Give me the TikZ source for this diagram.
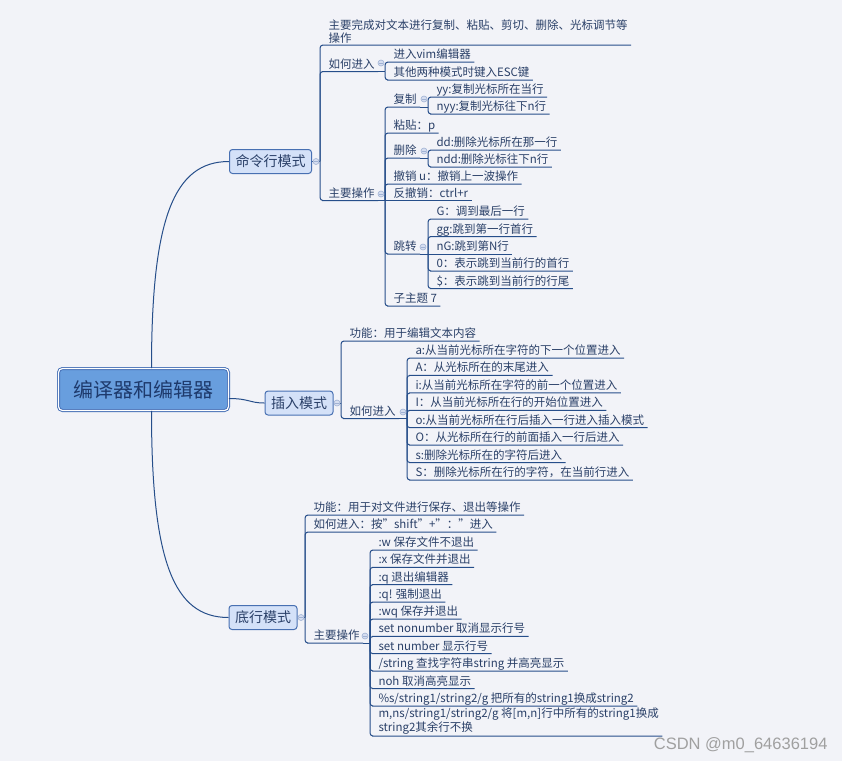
\documentclass[tikz,border=0pt]{standalone}
\usepackage{fontspec}
\setmainfont{Noto Sans CJK SC}
\newfontfamily\wmfont{Liberation Sans}
\definecolor{bgc}{RGB}{242,243,248}
\definecolor{linec}{RGB}{38,78,138}
\definecolor{textc}{RGB}{42,64,104}
\definecolor{modefill}{RGB}{212,225,248}
\definecolor{modeedge}{RGB}{72,112,178}
\definecolor{rootfill}{RGB}{104,158,222}
\definecolor{rootedge}{RGB}{66,108,180}
\definecolor{roottext}{RGB}{30,58,108}
\definecolor{foldfill}{RGB}{214,222,240}
\definecolor{foldedge}{RGB}{160,178,212}
\definecolor{wmc}{RGB}{160,160,160}
\tikzset{
  every picture/.style={line width=1pt},
  root/.style={rounded corners=4pt, draw=rootedge, line width=0.9pt,
               double=white, double distance=1.2pt, fill=rootfill,
               minimum width=170pt, minimum height=42pt, text=roottext,
               font=\fontsize{20}{24}\selectfont},
  mode/.style={rounded corners=3pt, draw=modeedge, fill=modefill,
               text=textc, inner xsep=6pt, minimum height=24pt,
               font=\fontsize{14}{16}\selectfont},
  leaf/.style={anchor=south west, xshift=5pt, inner xsep=3pt, inner ysep=0pt,
               text height=9pt, text depth=3pt, text=textc,
               font=\fontsize{11.5}{12.5}\selectfont},
  leaftwo/.style={anchor=south west, xshift=5pt, inner xsep=3pt,
                  inner ysep=1.5pt, align=left, text=textc,
                  font=\fontsize{11.5}{12.5}\selectfont},
  conn/.style={draw=linec, rounded corners=3pt},
  fold/.style={circle, draw=foldedge, fill=foldfill, line width=0.6pt,
               minimum size=6pt, inner sep=0pt,
               path picture={\draw[foldedge, line width=0.6pt]
                 ([xshift=1.3pt]path picture bounding box.west) --
                 ([xshift=-1.3pt]path picture bounding box.east);}},
  wm/.style={anchor=east, inner sep=0pt, text=wmc,
             font=\wmfont\fontsize{16.5}{18}\selectfont},
}

\begin{document}
\begin{tikzpicture}[x=1pt,y=-1pt]
  \fill[bgc] (0,0) rectangle (842,761);
  \useasboundingbox (0,0) rectangle (842,761);

  % centre topic and the three modes
  \node[root] (main) at (143.5,389.5) {编译器和编辑器};
  \node[mode] (cmd) at (270.5,161.5) {命令行模式};
  \node[mode] (ins) at (299,403) {插入模式};
  \node[mode] (bot) at (263,617.5) {底行模式};
  \draw[conn] ([xshift=8pt]main.north) .. controls +(0,-150) and +(-55,0) .. (cmd.west);
  \draw[conn] ([yshift=-9pt]main.east) .. controls +(20,0) and +(-15,0) .. (ins.west);
  \draw[conn] ([xshift=8pt]main.south) .. controls +(0,150) and +(-55,0) .. (bot.west);

  % command mode
  \coordinate (jCmd) at (320,161.5);
  \node[leaftwo] (cmdIntro) at (320,45) {主要完成对文本进行复制、粘贴、剪切、删除、光标调节等\\操作};
  \node[leaf] (cmdEnter) at (320,71.5) {如何进入};
  \node[leaf] (cmdOps) at (320,200.5) {主要操作};
  \draw[conn] (cmd.east) -- (jCmd);
  \draw[conn] (jCmd) |- (cmdIntro.south west) -- (cmdIntro.south east);
  \draw[conn] (jCmd) |- (cmdEnter.south west) -- (cmdEnter.south east);
  \draw[conn] (jCmd) |- (cmdOps.south west) -- (cmdOps.south east);

  \coordinate (jEnter) at (385,71.5);
  \node[leaf] (cmdEnterA) at (385,62) {进入vim编辑器};
  \node[leaf] (cmdEnterB) at (385,80) {其他两种模式时键入ESC键};
  \draw[conn] (cmdEnter.south east) -- (jEnter);
  \draw[conn] (jEnter) |- (cmdEnterA.south west) -- (cmdEnterA.south east);
  \draw[conn] (jEnter) |- (cmdEnterB.south west) -- (cmdEnterB.south east);

  \coordinate (jOps) at (385,200.5);
  \node[leaf] (cmdCopy) at (385,107) {复制};
  \node[leaf] (cmdPaste) at (385,133) {粘贴：p};
  \node[leaf] (cmdDel) at (385,158) {删除};
  \node[leaf] (cmdUndo) at (385,184) {撤销 u：撤销上一波操作};
  \node[leaf] (cmdRedo) at (385,200.5) {反撤销：ctrl+r};
  \node[leaf] (cmdJump) at (385,254) {跳转};
  \node[leaf] (cmdSub) at (385,306) {子主题 7};
  \draw[conn] (cmdOps.south east) -- (jOps);
  \draw[conn] (jOps) |- (cmdCopy.south west) -- (cmdCopy.south east);
  \draw[conn] (jOps) |- (cmdPaste.south west) -- (cmdPaste.south east);
  \draw[conn] (jOps) |- (cmdDel.south west) -- (cmdDel.south east);
  \draw[conn] (jOps) |- (cmdUndo.south west) -- (cmdUndo.south east);
  \draw[conn] (jOps) -- (cmdRedo.south east);
  \draw[conn] (jOps) |- (cmdJump.south west) -- (cmdJump.south east);
  \draw[conn] (jOps) |- (cmdSub.south west) -- (cmdSub.south east);

  \coordinate (jCopy) at (428,107);
  \node[leaf] (cmdCopyA) at (428,97) {yy:复制光标所在当行};
  \node[leaf] (cmdCopyB) at (428,114) {nyy:复制光标往下n行};
  \draw[conn] (cmdCopy.south east) -- (jCopy);
  \draw[conn] (jCopy) |- (cmdCopyA.south west) -- (cmdCopyA.south east);
  \draw[conn] (jCopy) |- (cmdCopyB.south west) -- (cmdCopyB.south east);

  \coordinate (jDel) at (428,158);
  \node[leaf] (cmdDelA) at (428,150) {dd:删除光标所在那一行};
  \node[leaf] (cmdDelB) at (428,167) {ndd:删除光标往下n行};
  \draw[conn] (cmdDel.south east) -- (jDel);
  \draw[conn] (jDel) |- (cmdDelA.south west) -- (cmdDelA.south east);
  \draw[conn] (jDel) |- (cmdDelB.south west) -- (cmdDelB.south east);

  \coordinate (jJump) at (428,254);
  \node[leaf] (cmdJumpA) at (428,219) {G：调到最后一行};
  \node[leaf] (cmdJumpB) at (428,236.5) {gg:跳到第一行首行};
  \node[leaf] (cmdJumpC) at (428,254) {nG:跳到第N行};
  \node[leaf] (cmdJumpD) at (428,271) {0：表示跳到当前行的首行};
  \node[leaf] (cmdJumpE) at (428,288.5) {\$：表示跳到当前行的行尾};
  \draw[conn] (cmdJump.south east) -- (jJump);
  \draw[conn] (jJump) |- (cmdJumpA.south west) -- (cmdJumpA.south east);
  \draw[conn] (jJump) |- (cmdJumpB.south west) -- (cmdJumpB.south east);
  \draw[conn] (jJump) -- (cmdJumpC.south east);
  \draw[conn] (jJump) |- (cmdJumpD.south west) -- (cmdJumpD.south east);
  \draw[conn] (jJump) |- (cmdJumpE.south west) -- (cmdJumpE.south east);

  % insert mode
  \coordinate (jIns) at (341,403);
  \node[leaf] (insFunc) at (341,341) {功能：用于编辑文本内容};
  \node[leaf] (insEnter) at (341,418.5) {如何进入};
  \draw[conn] (ins.east) -- (jIns);
  \draw[conn] (jIns) |- (insFunc.south west) -- (insFunc.south east);
  \draw[conn] (jIns) |- (insEnter.south west) -- (insEnter.south east);

  \coordinate (jInsEnter) at (407,418.5);
  \node[leaf] (insA) at (407,358) {a:从当前光标所在字符的下一个位置进入};
  \node[leaf] (insB) at (407,375.4) {A：从光标所在的末尾进入};
  \node[leaf] (insC) at (407,392.9) {i:从当前光标所在字符的前一个位置进入};
  \node[leaf] (insD) at (407,410.3) {I：从当前光标所在行的开始位置进入};
  \node[leaf] (insE) at (407,427.7) {o:从当前光标所在行后插入一行进入插入模式};
  \node[leaf] (insF) at (407,445.1) {O：从光标所在行的前面插入一行后进入};
  \node[leaf] (insG) at (407,462.6) {s:删除光标所在的字符后进入};
  \node[leaf] (insH) at (407,480) {S：删除光标所在行的字符，在当前行进入};
  \draw[conn] (insEnter.south east) -- (jInsEnter);
  \draw[conn] (jInsEnter) |- (insA.south west) -- (insA.south east);
  \draw[conn] (jInsEnter) |- (insB.south west) -- (insB.south east);
  \draw[conn] (jInsEnter) |- (insC.south west) -- (insC.south east);
  \draw[conn] (jInsEnter) |- (insD.south west) -- (insD.south east);
  \draw[conn] (jInsEnter) |- (insE.south west) -- (insE.south east);
  \draw[conn] (jInsEnter) |- (insF.south west) -- (insF.south east);
  \draw[conn] (jInsEnter) |- (insG.south west) -- (insG.south east);
  \draw[conn] (jInsEnter) |- (insH.south west) -- (insH.south east);

  % last line mode
  \coordinate (jBot) at (305,617.5);
  \node[leaf] (botFunc) at (305,515) {功能：用于对文件进行保存、退出等操作};
  \node[leaf] (botEnter) at (305,532) {如何进入：按"shift"+"："进入};
  \node[leaf] (botOps) at (305,643) {主要操作};
  \draw[conn] (bot.east) -- (jBot);
  \draw[conn] (jBot) |- (botFunc.south west) -- (botFunc.south east);
  \draw[conn] (jBot) |- (botEnter.south west) -- (botEnter.south east);
  \draw[conn] (jBot) |- (botOps.south west) -- (botOps.south east);

  \coordinate (jBotOps) at (370,643);
  \node[leaf] (botA) at (370,550) {:w 保存文件不退出};
  \node[leaf] (botB) at (370,567.3) {:x 保存文件并退出};
  \node[leaf] (botC) at (370,584.6) {:q 退出编辑器};
  \node[leaf] (botD) at (370,602) {:q! 强制退出};
  \node[leaf] (botE) at (370,619) {:wq 保存并退出};
  \node[leaf] (botF) at (370,636.4) {set nonumber 取消显示行号};
  \node[leaf] (botG) at (370,653.7) {set number 显示行号};
  \node[leaf] (botH) at (370,671) {/string 查找字符串string 并高亮显示};
  \node[leaf] (botI) at (370,688.6) {noh 取消高亮显示};
  \node[leaf] (botJ) at (370,706) {\%s/string1/string2/g 把所有的string1换成string2};
  \node[leaftwo] (botK) at (370,736) {m,ns/string1/string2/g 将[m,n]行中所有的string1换成\\string2其余行不换};
  \draw[conn] (botOps.south east) -- (jBotOps);
  \draw[conn] (jBotOps) |- (botA.south west) -- (botA.south east);
  \draw[conn] (jBotOps) |- (botB.south west) -- (botB.south east);
  \draw[conn] (jBotOps) |- (botC.south west) -- (botC.south east);
  \draw[conn] (jBotOps) |- (botD.south west) -- (botD.south east);
  \draw[conn] (jBotOps) |- (botE.south west) -- (botE.south east);
  \draw[conn] (jBotOps) |- (botF.south west) -- (botF.south east);
  \draw[conn] (jBotOps) |- (botG.south west) -- (botG.south east);
  \draw[conn] (jBotOps) |- (botH.south west) -- (botH.south east);
  \draw[conn] (jBotOps) |- (botI.south west) -- (botI.south east);
  \draw[conn] (jBotOps) |- (botJ.south west) -- (botJ.south east);
  \draw[conn] (jBotOps) |- (botK.south west) -- (botK.south east);

  % collapse marks
  \node[fold] (fCmd) at (316,161.5) {};
  \node[fold] (fIns) at (337,403) {};
  \node[fold] (fBot) at (301,617.5) {};
  \node[fold] (fCmdEnter) at (381,63) {};
  \node[fold] (fCmdOps) at (381,194) {};
  \node[fold] (fCopy) at (424,99) {};
  \node[fold] (fDel) at (424,151) {};
  \node[fold] (fJump) at (423,247) {};
  \node[fold] (fInsEnter) at (403,412) {};
  \node[fold] (fBotOps) at (365,636) {};

  \node[wm] (csdn) at (828,745) {CSDN @m0\_64636194};
\end{tikzpicture}
\end{document}
